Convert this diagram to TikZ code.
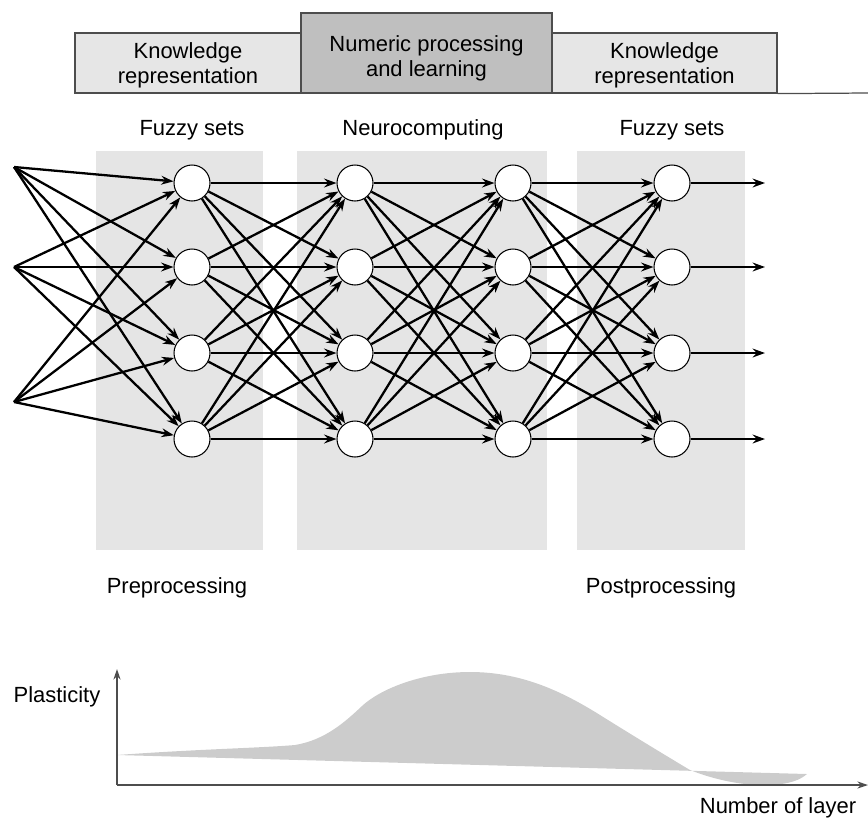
\documentclass[tikz,border=0pt]{standalone}
\usepackage{fontspec}
\setsansfont{Liberation Sans}
\usetikzlibrary{arrows.meta}
\definecolor{bandgray}{HTML}{E5E5E5}
\definecolor{boxgray}{HTML}{E6E6E6}
\definecolor{midgray}{HTML}{BFBFBF}
\definecolor{areagray}{HTML}{CCCCCC}
\definecolor{rulegray}{HTML}{4D4D4D}

\begin{document}
\begin{tikzpicture}[
  x=0.02cm, y=-0.02cm,
  font=\sffamily\fontsize{12.5}{14.2}\selectfont,
  header/.style={draw=rulegray, line width=0.7pt, fill=boxgray, minimum height=1.2cm, inner sep=0pt},
  headtext/.style={align=center, inner sep=0pt},
  neuron/.style={circle, draw=black, line width=0.6pt, fill=white, minimum size=0.72cm, inner sep=0pt},
  arrow/.style={-{Stealth[length=7pt,width=5pt]}, line width=1.3pt},
  axis/.style={-{Stealth[length=6pt,width=4pt]}, draw=rulegray, line width=0.8pt}
]
  \useasboundingbox (0,0) rectangle (868,819);

  % header row
  \node[header, minimum width=4.52cm] (know1) at (188,63) {};
  \node[header, fill=midgray, minimum width=5.02cm, minimum height=1.6cm] (numeric) at (426.5,53) {};
  \node[header, minimum width=4.5cm] (know2) at (664.5,63) {};
  \node[headtext] (know1txt) at (188,65) {Knowledge\\representation};
  \node[headtext] (numtxt) at (426.5,58) {Numeric processing\\and learning};
  \node[headtext] (know2txt) at (664.5,65) {Knowledge\\representation};
  \coordinate (hdrend) at (868,93);
  \draw[rulegray, line width=0.7pt] (know2.south east) -- (hdrend);

  % shaded stages
  \fill[bandgray] (96,151) rectangle (263,550);
  \fill[bandgray] (297,151) rectangle (547,550);
  \fill[bandgray] (577,151) rectangle (745,550);

  \node (fuzzy1) at (192,130) {Fuzzy sets};
  \node (neuro) at (423,130) {Neurocomputing};
  \node (fuzzy2) at (672,130) {Fuzzy sets};
  \node (pre) at (177,588) {Preprocessing};
  \node (post) at (661,588) {Postprocessing};

  % network
  \foreach \c/\x in {1/192,2/355,3/513,4/672}
    \foreach \r/\y in {1/183,2/267,3/353,4/439}
      \node[neuron] (n\c\r) at (\x,\y) {};
  \foreach \i/\y in {1/167,2/267,3/402}
    \coordinate (in\i) at (14,\y);
  \foreach \r/\y in {1/183,2/267,3/353,4/439}
    \coordinate (out\r) at (765,\y);

  \foreach \i in {1,2,3}
    \foreach \r in {1,...,4}
      \draw[arrow] (in\i) -- (n1\r);
  \foreach \c/\nxt in {1/2,2/3,3/4}
    \foreach \r in {1,...,4}
      \foreach \s in {1,...,4}
        \draw[arrow] (n\c\r) -- (n\nxt\s);
  \foreach \r in {1,...,4}
    \draw[arrow] (n4\r) -- (out\r);

  % plasticity curve
  \coordinate (origin) at (117,785);
  \coordinate (ytop) at (117,669);
  \coordinate (xend) at (868,785);
  \fill[areagray] (117,755) .. controls (200,749) and (260,748) .. (295,745)
    .. controls (325,740) and (345,722) .. (362,706)
    .. controls (379,690) and (420,672) .. (470,672)
    .. controls (520,672) and (560,690) .. (600,715)
    .. controls (640,740) and (670,758) .. (690,770)
    .. controls (720,782) and (750,786) .. (770,785)
    .. controls (790,784) and (800,780) .. (807,774) -- cycle;
  \draw[axis] (origin) -- (ytop);
  \draw[axis] (origin) -- (xend);
  \node (plast) at (57,697) {Plasticity};
  \node (nlayer) at (778,808) {Number of layer};
\end{tikzpicture}
\end{document}
